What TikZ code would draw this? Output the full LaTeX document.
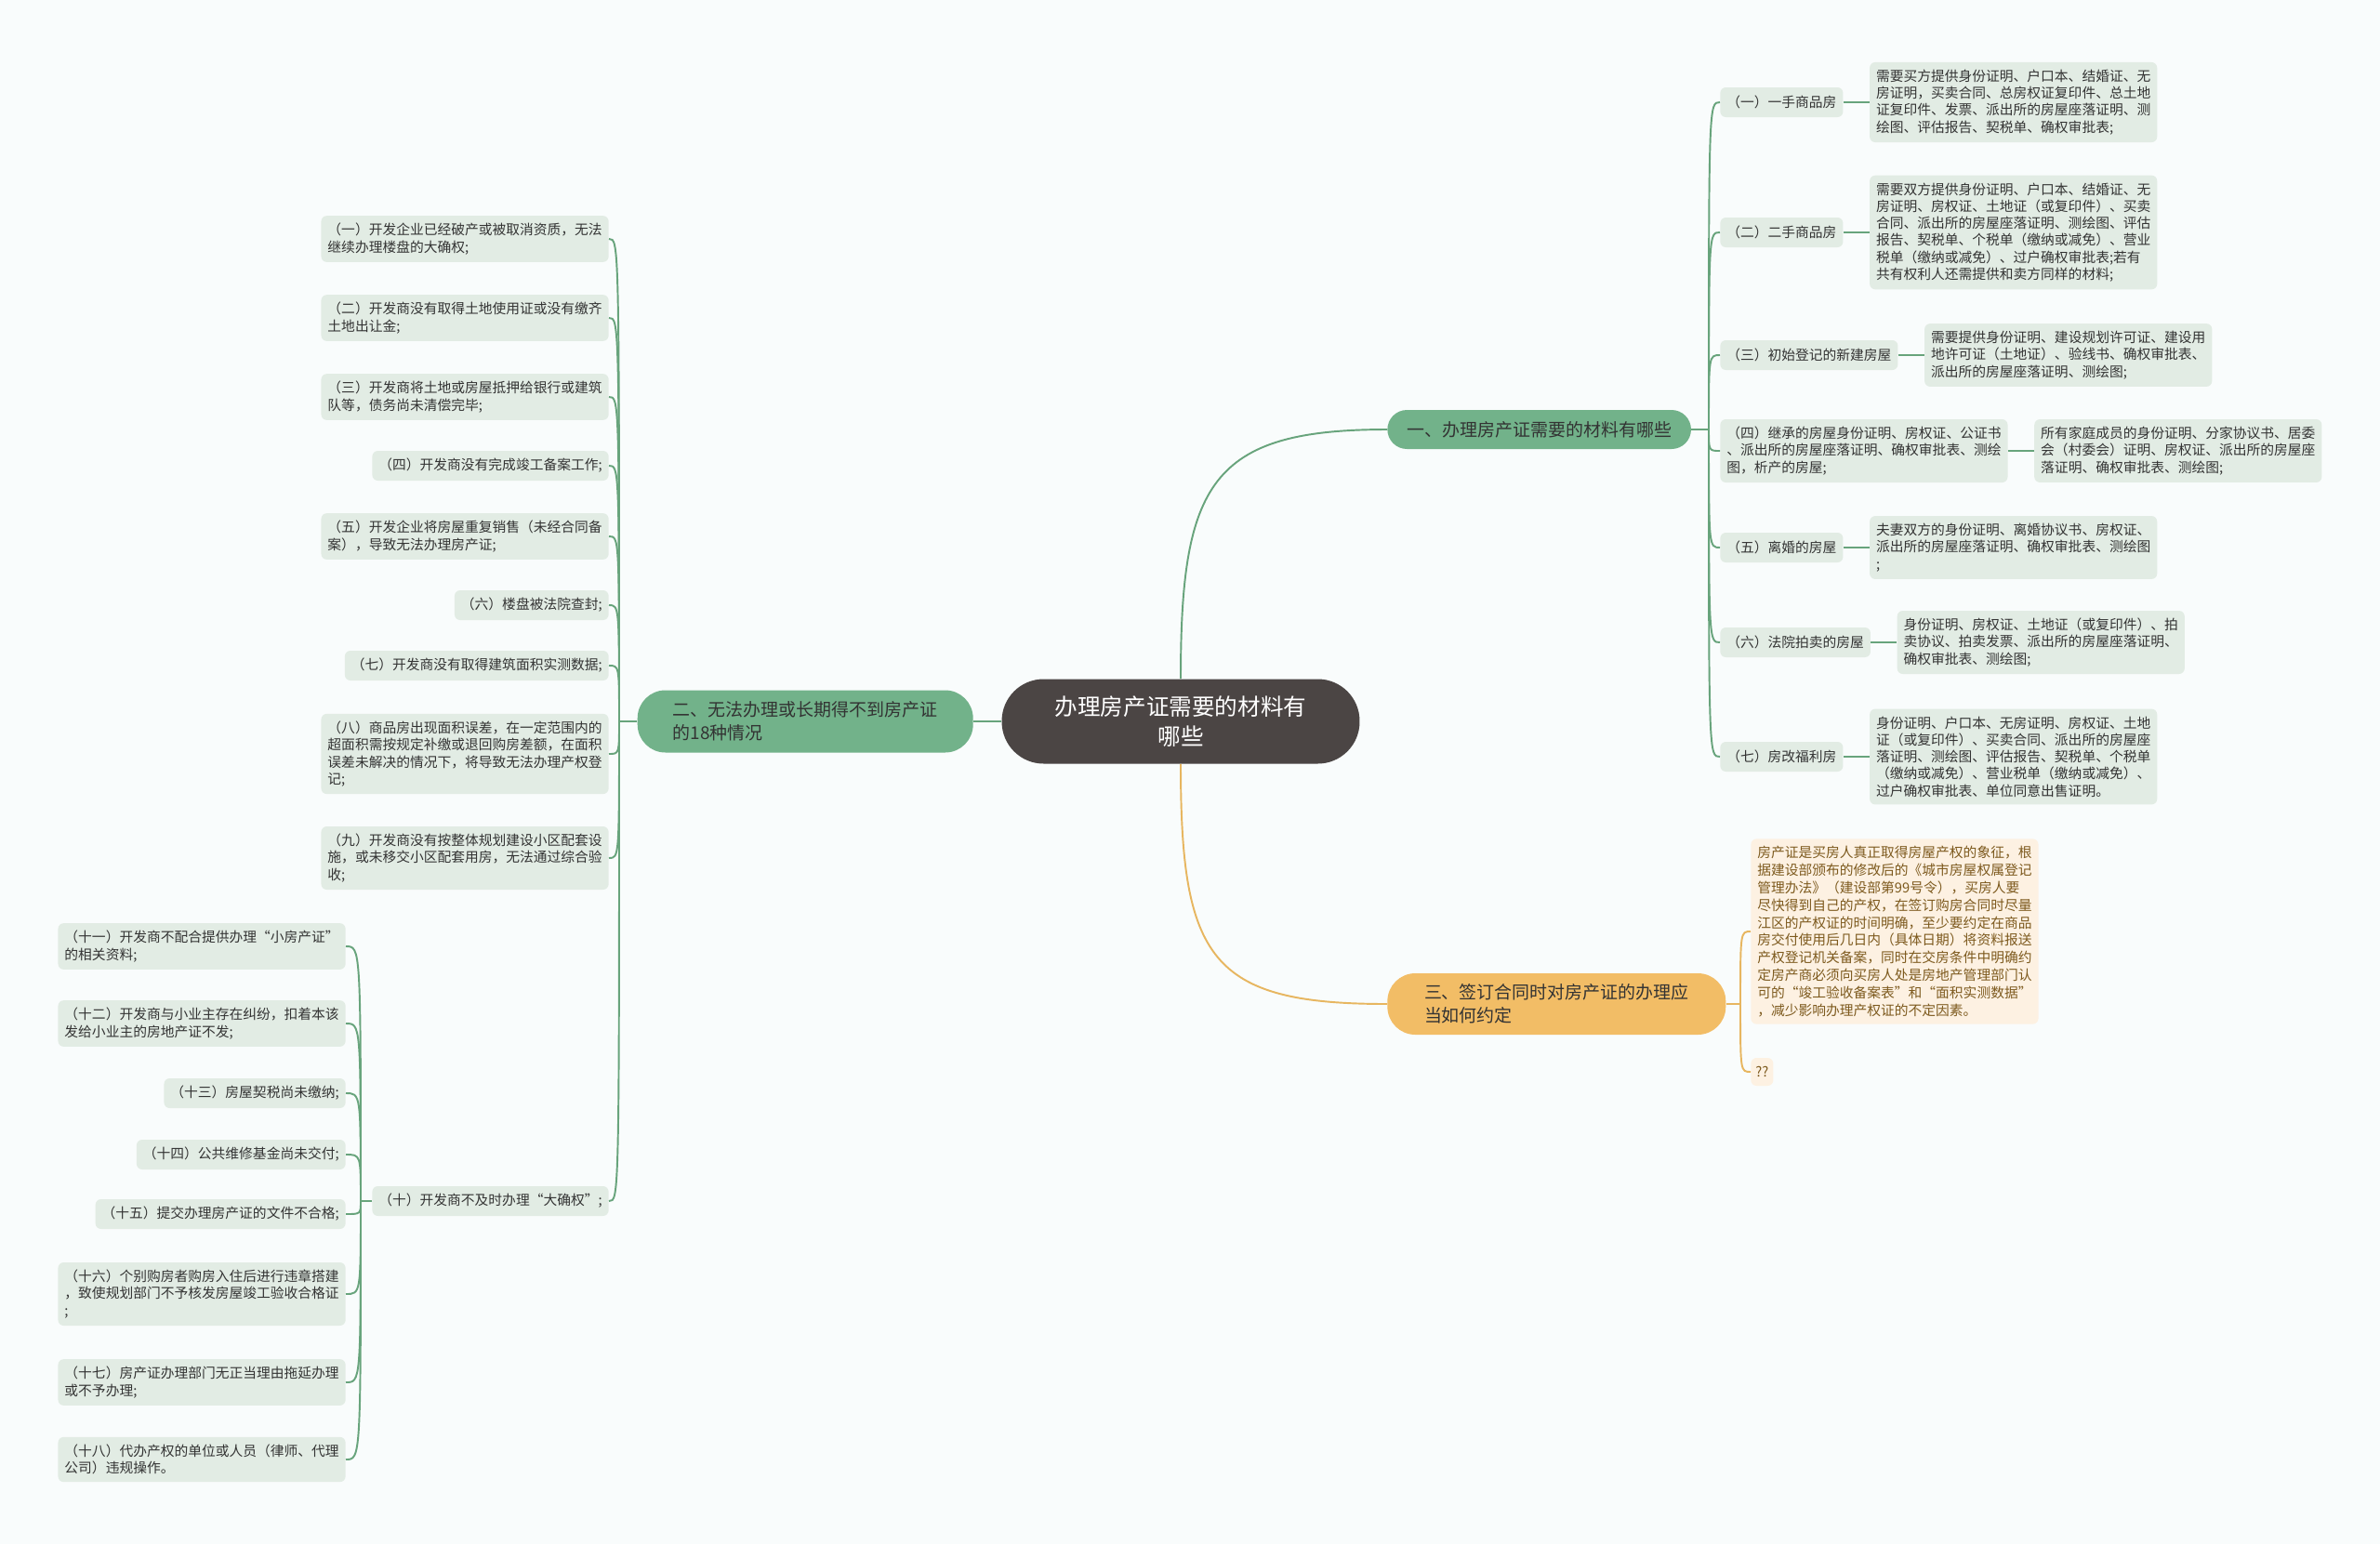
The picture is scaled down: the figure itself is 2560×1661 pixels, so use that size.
\documentclass[tikz,border=0pt]{standalone}
\usepackage{fontspec}
\setmainfont{Noto Sans CJK SC}
\usetikzlibrary{positioning}
\definecolor{rootgray}{RGB}{75,69,68}
\definecolor{mapgreen}{RGB}{114,178,138}
\definecolor{linegreen}{RGB}{104,164,124}
\definecolor{leafgreen}{RGB}{226,236,228}
\definecolor{maporange}{RGB}{242,189,102}
\definecolor{lineorange}{RGB}{231,182,96}
\definecolor{leaforange}{RGB}{253,241,226}
\definecolor{textbrown}{RGB}{125,90,30}
\definecolor{textdark}{RGB}{51,51,51}
\definecolor{paper}{RGB}{249,252,252}

\begin{document}
\begin{tikzpicture}[
  x=0.02cm, y=-0.02cm,
  root/.style={fill=rootgray, text=white, rounded corners=0.9cm, minimum width=7.7cm, minimum height=1.82cm, align=center, font=\fontsize{14}{18.6}\selectfont},
  branch/.style={fill=mapgreen, text=textdark, rounded corners=0.6cm, inner xsep=0.65cm, align=left, font=\fontsize{10.8}{14}\selectfont},
  leafbox/.style={fill=leafgreen, text=textdark, rounded corners=0.12cm, inner xsep=0.14cm, inner ysep=0.16cm, minimum height=0.64cm, align=left, font=\fontsize{8.4}{10.4}\selectfont},
  noteleaf/.style={leafbox, fill=leaforange, text=textbrown, font=\fontsize{8.4}{10.7}\selectfont},
  link/.style={linegreen, line width=1.1pt},
  olink/.style={lineorange, line width=1.1pt}
]
\fill[paper] (0,0) rectangle (2560,1661);

% centre and main branches
\node[root] (root) at (1270,776) {办理房产证需要的材料有\\哪些};
\node[branch, anchor=east, minimum width=7.22cm, minimum height=1.34cm] (b2) at (1047,776) {二、无法办理或长期得不到房产证\\的18种情况};
\node[branch, anchor=west, inner xsep=0.42cm, rounded corners=0.42cm, minimum height=0.84cm] (b1) at (1492,462) {一、办理房产证需要的材料有哪些};
\node[branch, fill=maporange, anchor=west, minimum width=7.28cm, minimum height=1.32cm] (b3) at (1492,1080) {三、签订合同时对房产证的办理应\\当如何约定};

% branch one: materials
\node[leafbox, anchor=west] (r1) at (1850,110) {（一）一手商品房};
\node[leafbox, anchor=west] (r2) at (1850,250) {（二）二手商品房};
\node[leafbox, anchor=west] (r3) at (1850,382) {（三）初始登记的新建房屋};
\node[leafbox, anchor=west] (r4) at (1850,485) {（四）继承的房屋身份证明、房权证、公证书\\、派出所的房屋座落证明、确权审批表、测绘\\图，析产的房屋;};
\node[leafbox, anchor=west] (r5) at (1850,589) {（五）离婚的房屋};
\node[leafbox, anchor=west] (r6) at (1850,691) {（六）法院拍卖的房屋};
\node[leafbox, anchor=west] (r7) at (1850,814) {（七）房改福利房};

\node[leafbox, right=0.56cm of r1] (d1) {需要买方提供身份证明、户口本、结婚证、无\\房证明，买卖合同、总房权证复印件、总土地\\证复印件、发票、派出所的房屋座落证明、测\\绘图、评估报告、契税单、确权审批表;};
\node[leafbox, right=0.56cm of r2] (d2) {需要双方提供身份证明、户口本、结婚证、无\\房证明、房权证、土地证（或复印件）、买卖\\合同、派出所的房屋座落证明、测绘图、评估\\报告、契税单、个税单（缴纳或减免）、营业\\税单（缴纳或减免）、过户确权审批表;若有\\共有权利人还需提供和卖方同样的材料;};
\node[leafbox, right=0.56cm of r3] (d3) {需要提供身份证明、建设规划许可证、建设用\\地许可证（土地证）、验线书、确权审批表、\\派出所的房屋座落证明、测绘图;};
\node[leafbox, right=0.56cm of r4] (d4) {所有家庭成员的身份证明、分家协议书、居委\\会（村委会）证明、房权证、派出所的房屋座\\落证明、确权审批表、测绘图;};
\node[leafbox, right=0.56cm of r5] (d5) {夫妻双方的身份证明、离婚协议书、房权证、\\派出所的房屋座落证明、确权审批表、测绘图\\;};
\node[leafbox, right=0.56cm of r6] (d6) {身份证明、房权证、土地证（或复印件）、拍\\卖协议、拍卖发票、派出所的房屋座落证明、\\确权审批表、测绘图;};
\node[leafbox, right=0.56cm of r7] (d7) {身份证明、户口本、无房证明、房权证、土地\\证（或复印件）、买卖合同、派出所的房屋座\\落证明、测绘图、评估报告、契税单、个税单\\（缴纳或减免）、营业税单（缴纳或减免）、\\过户确权审批表、单位同意出售证明。};

% branch two: 18 cases
\node[leafbox, anchor=east] (c1) at (655,257) {（一）开发企业已经破产或被取消资质，无法\\继续办理楼盘的大确权;};
\node[leafbox, anchor=east] (c2) at (655,342) {（二）开发商没有取得土地使用证或没有缴齐\\土地出让金;};
\node[leafbox, anchor=east] (c3) at (655,427) {（三）开发商将土地或房屋抵押给银行或建筑\\队等，债务尚未清偿完毕;};
\node[leafbox, anchor=east] (c4) at (655,501) {（四）开发商没有完成竣工备案工作;};
\node[leafbox, anchor=east] (c5) at (655,577) {（五）开发企业将房屋重复销售（未经合同备\\案），导致无法办理房产证;};
\node[leafbox, anchor=east] (c6) at (655,651) {（六）楼盘被法院查封;};
\node[leafbox, anchor=east] (c7) at (655,716) {（七）开发商没有取得建筑面积实测数据;};
\node[leafbox, anchor=east] (c8) at (655,811) {（八）商品房出现面积误差，在一定范围内的\\超面积需按规定补缴或退回购房差额，在面积\\误差未解决的情况下，将导致无法办理产权登\\记;};
\node[leafbox, anchor=east] (c9) at (655,923) {（九）开发商没有按整体规划建设小区配套设\\施，或未移交小区配套用房，无法通过综合验\\收;};
\node[leafbox, anchor=east] (c10) at (655,1292) {（十）开发商不及时办理“大确权”;};

\node[leafbox, anchor=east] (c11) at (372,1018) {（十一）开发商不配合提供办理“小房产证”\\的相关资料;};
\node[leafbox, anchor=east] (c12) at (372,1101) {（十二）开发商与小业主存在纠纷，扣着本该\\发给小业主的房地产证不发;};
\node[leafbox, anchor=east] (c13) at (372,1176) {（十三）房屋契税尚未缴纳;};
\node[leafbox, anchor=east] (c14) at (372,1242) {（十四）公共维修基金尚未交付;};
\node[leafbox, anchor=east] (c15) at (372,1306) {（十五）提交办理房产证的文件不合格;};
\node[leafbox, anchor=east] (c16) at (372,1392) {（十六）个别购房者购房入住后进行违章搭建\\，致使规划部门不予核发房屋竣工验收合格证\\;};
\node[leafbox, anchor=east] (c17) at (372,1487) {（十七）房产证办理部门无正当理由拖延办理\\或不予办理;};
\node[leafbox, anchor=east] (c18) at (372,1570) {（十八）代办产权的单位或人员（律师、代理\\公司）违规操作。};

% branch three: contract
\node[noteleaf, anchor=west] (note) at (1883,1002) {房产证是买房人真正取得房屋产权的象征，根\\据建设部颁布的修改后的《城市房屋权属登记\\管理办法》（建设部第99号令），买房人要\\尽快得到自己的产权，在签订购房合同时尽量\\江区的产权证的时间明确，至少要约定在商品\\房交付使用后几日内（具体日期）将资料报送\\产权登记机关备案，同时在交房条件中明确约\\定房产商必须向买房人处是房地产管理部门认\\可的“竣工验收备案表”和“面积实测数据”\\，减少影响办理产权证的不定因素。};
\node[noteleaf, anchor=west, minimum height=0.6cm, inner xsep=0.1cm] (qq) at (1883,1153) {??};

% junctions
\coordinate (j1) at (1838,462);
\coordinate (j2) at (666,776);
\coordinate (j10) at (388,1292);
\coordinate (j3) at (1872,1080);

% connectors
\draw[link] (root.west) -- (b2.east);
\draw[link] (root.north) .. controls +(0,-210) and +(-190,0) .. (b1.west);
\draw[olink] (root.south) .. controls +(0,210) and +(-190,0) .. (b3.west);

\draw[link] (b1.east) -- (j1);
\draw[link] (j1) .. controls (j1 |- r1.west) .. (r1.west);
\draw[link] (j1) .. controls (j1 |- r2.west) .. (r2.west);
\draw[link] (j1) .. controls (j1 |- r3.west) .. (r3.west);
\draw[link] (j1) .. controls (j1 |- r4.west) .. (r4.west);
\draw[link] (j1) .. controls (j1 |- r5.west) .. (r5.west);
\draw[link] (j1) .. controls (j1 |- r6.west) .. (r6.west);
\draw[link] (j1) .. controls (j1 |- r7.west) .. (r7.west);
\draw[link] (r1.east) -- (d1.west);
\draw[link] (r2.east) -- (d2.west);
\draw[link] (r3.east) -- (d3.west);
\draw[link] (r4.east) -- (d4.west);
\draw[link] (r5.east) -- (d5.west);
\draw[link] (r6.east) -- (d6.west);
\draw[link] (r7.east) -- (d7.west);

\draw[link] (b2.west) -- (j2);
\draw[link] (j2) .. controls (j2 |- c1.east) .. (c1.east);
\draw[link] (j2) .. controls (j2 |- c2.east) .. (c2.east);
\draw[link] (j2) .. controls (j2 |- c3.east) .. (c3.east);
\draw[link] (j2) .. controls (j2 |- c4.east) .. (c4.east);
\draw[link] (j2) .. controls (j2 |- c5.east) .. (c5.east);
\draw[link] (j2) .. controls (j2 |- c6.east) .. (c6.east);
\draw[link] (j2) .. controls (j2 |- c7.east) .. (c7.east);
\draw[link] (j2) .. controls (j2 |- c8.east) .. (c8.east);
\draw[link] (j2) .. controls (j2 |- c9.east) .. (c9.east);
\draw[link] (j2) .. controls (j2 |- c10.east) .. (c10.east);

\draw[link] (c10.west) -- (j10);
\draw[link] (j10) .. controls (j10 |- c11.east) .. (c11.east);
\draw[link] (j10) .. controls (j10 |- c12.east) .. (c12.east);
\draw[link] (j10) .. controls (j10 |- c13.east) .. (c13.east);
\draw[link] (j10) .. controls (j10 |- c14.east) .. (c14.east);
\draw[link] (j10) .. controls (j10 |- c15.east) .. (c15.east);
\draw[link] (j10) .. controls (j10 |- c16.east) .. (c16.east);
\draw[link] (j10) .. controls (j10 |- c17.east) .. (c17.east);
\draw[link] (j10) .. controls (j10 |- c18.east) .. (c18.east);

\draw[olink] (b3.east) -- (j3);
\draw[olink] (j3) .. controls (j3 |- note.west) .. (note.west);
\draw[olink] (j3) .. controls (j3 |- qq.west) .. (qq.west);
\end{tikzpicture}
\end{document}
